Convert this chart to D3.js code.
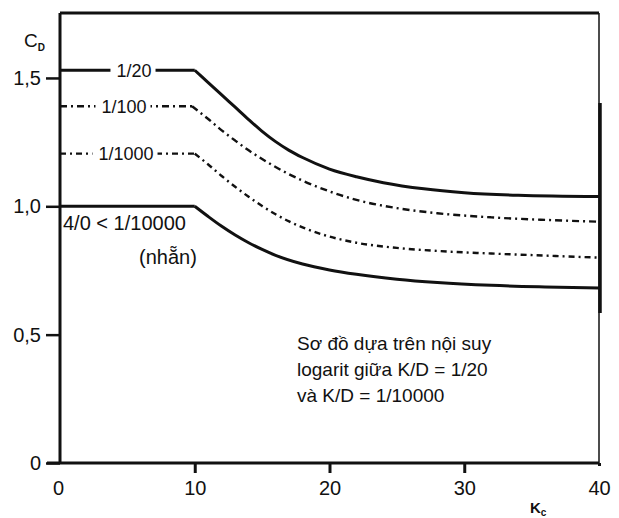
<!DOCTYPE html>
<html>
<head>
<meta charset="utf-8">
<script src="https://cdn.jsdelivr.net/npm/d3@7"></script>
<style>
  body { margin: 0; background: #fff; }
  svg text { font-family: "Liberation Sans", Arial, sans-serif; fill: #111; }
</style>
</head>
<body>
<svg class="cdChart" width="619" height="518"></svg>
<script>
// K_c values, one list per curve
var kc20 = [0, 10, 11, 12, 13, 14, 15, 16, 17, 18, 20, 22, 24, 27, 30, 34, 40];
var cd20 = [1.53, 1.53, 1.482, 1.434, 1.386, 1.338, 1.292, 1.252, 1.218, 1.19, 1.145, 1.115, 1.092, 1.068, 1.053, 1.043, 1.038];

var kc100 = [0, 9.8, 11, 12, 13, 14, 15, 16, 17, 18, 20, 22, 25, 28, 32, 36, 40];
var cd100 = [1.39, 1.39, 1.34, 1.296, 1.256, 1.218, 1.184, 1.153, 1.125, 1.10, 1.058, 1.025, 0.993, 0.973, 0.957, 0.947, 0.94];

var kc1000 = [0, 10, 11, 12, 13, 14, 15, 16, 17, 18, 20, 22, 25, 28, 32, 36, 40];
var cd1000 = [1.205, 1.205, 1.163, 1.118, 1.076, 1.037, 1.001, 0.969, 0.941, 0.918, 0.882, 0.858, 0.838, 0.826, 0.816, 0.808, 0.80];

var kcSmooth = [0, 10, 11, 12, 13, 14, 15, 16, 18, 20, 22, 25, 28, 32, 36, 40];
var cdSmooth = [1.0, 1.0, 0.96, 0.922, 0.888, 0.858, 0.832, 0.809, 0.775, 0.752, 0.735, 0.716, 0.703, 0.692, 0.686, 0.682];

var xTicks = [0, 10, 20, 30, 40];
var yTicks = [0, 0.5, 1.0, 1.5];
var yTickLabels = ['0', '0,5', '1,0', '1,5'];

var curveLabels = ['1/20', '1/100', '1/1000'];
var noteLines = ['Sơ đồ dựa trên nội suy', 'logarit giữa K/D = 1/20', 'và K/D = 1/10000'];

var svg = d3.select('svg.cdChart');

var x = d3.scaleLinear().domain([0, 40]).range([60, 599]);
var y = d3.scaleLinear().domain([0, 1.753]).range([463, 13]);

// flat part straight, falling part smooth, so the corner at K_c = 10 stays sharp
var flatLine = d3.line()
  .x(function(d) { return x(d[0]); })
  .y(function(d) { return y(d[1]); });
var fallLine = d3.line()
  .x(function(d) { return x(d[0]); })
  .y(function(d) { return y(d[1]); })
  .curve(d3.curveMonotoneX);

var series = [
  { kc: kc20, cd: cd20, dash: null, width: 3, label: curveLabels[0], lx: 134 },
  { kc: kc100, cd: cd100, dash: '7,4,2,4', width: 2.4, label: curveLabels[1], lx: 124 },
  { kc: kc1000, cd: cd1000, dash: '6,4,2,4', width: 2.4, label: curveLabels[2], lx: 126 },
  { kc: kcSmooth, cd: cdSmooth, dash: null, width: 3, label: null }
];

// frame
svg.append('line')
  .attr('x1', x(0)).attr('x2', x(40))
  .attr('y1', y.range()[1]).attr('y2', y.range()[1])
  .attr('stroke', '#111').attr('stroke-width', 3);
svg.append('line')
  .attr('x1', x(40)).attr('x2', x(40))
  .attr('y1', y.range()[1]).attr('y2', y(0))
  .attr('stroke', '#111').attr('stroke-width', 1.5);
svg.append('line')
  .attr('x1', x(40) + 1).attr('x2', x(40) + 1)
  .attr('y1', 103).attr('y2', 313)
  .attr('stroke', '#111').attr('stroke-width', 3.5);

// curves
series.forEach(function(s) {
  var pts = s.kc.map(function(k, i) { return [k, s.cd[i]]; });
  var g = svg.append('g')
    .attr('fill', 'none')
    .attr('stroke', '#111')
    .attr('stroke-width', s.width)
    .attr('stroke-dasharray', s.dash);
  g.append('path').datum(pts.slice(0, 2)).attr('d', flatLine);
  g.append('path').datum(pts.slice(1)).attr('d', fallLine);

  if (s.label) {
    var lg = svg.append('g');
    var t = lg.append('text')
      .attr('x', s.lx)
      .attr('y', y(s.cd[0]))
      .attr('dy', '0.36em')
      .attr('text-anchor', 'middle')
      .style('font-size', '18px')
      .text(s.label);
    var bb = t.node().getBBox();
    lg.insert('rect', 'text')
      .attr('x', bb.x - 6)
      .attr('y', bb.y)
      .attr('width', bb.width + 10)
      .attr('height', bb.height)
      .attr('fill', '#fff');
  }
});

// axes
var xAxis = d3.axisBottom(x).tickValues(xTicks).tickSize(10).tickPadding(8);
var gx = svg.append('g')
  .attr('transform', 'translate(0,' + y(0) + ')')
  .call(xAxis);
gx.select('.domain').remove();
gx.selectAll('.tick line')
  .attr('stroke', '#111')
  .attr('stroke-width', 3)
  .attr('y2', function(d) { return d === 0 ? 0 : (d === 40 ? 3 : 10); });
gx.selectAll('.tick text')
  .style('font-size', '20px')
  .attr('fill', '#111')
  .attr('dx', function(d) { return d === 0 ? -2 : 0; });

var yAxis = d3.axisLeft(y).tickValues(yTicks).tickSize(14).tickPadding(5)
  .tickFormat(function(d, i) { return yTickLabels[i]; });
var gy = svg.append('g')
  .attr('transform', 'translate(' + x(0) + ',0)')
  .call(yAxis);
gy.select('.domain').remove();
gy.selectAll('.tick line').attr('stroke', '#111').attr('stroke-width', 2.5);
gy.selectAll('.tick text').style('font-size', '20px').attr('fill', '#111');

// axis lines on top
svg.append('line')
  .attr('x1', x(0)).attr('x2', x(0))
  .attr('y1', y.range()[1]).attr('y2', y(0))
  .attr('stroke', '#111').attr('stroke-width', 3);
svg.append('line')
  .attr('x1', 47).attr('x2', x(40))
  .attr('y1', y(0)).attr('y2', y(0))
  .attr('stroke', '#111').attr('stroke-width', 3);

// axis titles
var yl = svg.append('text').attr('x', 24).attr('y', 47).style('font-size', '19px');
yl.append('tspan').text('C');
yl.append('tspan').attr('dy', 4).style('font-size', '10px').style('font-weight', 'bold').text('D');

var xl = svg.append('text').attr('x', 530).attr('y', 513).style('font-size', '15px').style('font-weight', 'bold');
xl.append('tspan').text('K');
xl.append('tspan').attr('dy', 3).style('font-size', '10px').text('c');

// smooth curve label
svg.append('text').attr('x', 63).attr('y', 230).style('font-size', '20px').text('4/0 < 1/10000');
svg.append('text').attr('x', 139).attr('y', 264).style('font-size', '20px').text('(nhẵn)');

// note
svg.append('g')
  .selectAll('text')
  .data(noteLines)
  .enter()
  .append('text')
  .attr('x', 297)
  .attr('y', function(d, i) { return 350 + i * 26; })
  .style('font-size', '19px')
  .text(function(d) { return d; });
</script>
</body>
</html>
